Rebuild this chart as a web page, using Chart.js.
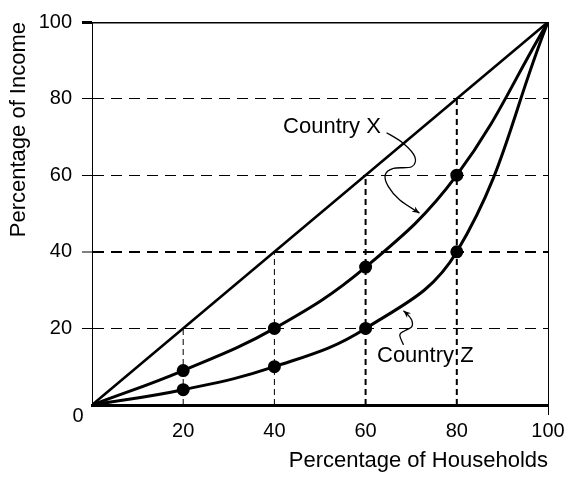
<!DOCTYPE html>
<html>
<head>
<meta charset="utf-8">
<script src="https://cdn.jsdelivr.net/npm/chart.js@4"></script>
<style>
  html, body { margin: 0; padding: 0; background: #fff; }
</style>
</head>
<body>
<canvas id="myChart" width="578" height="482"></canvas>
<script>
// values
const households = [0, 20, 40, 60, 80, 100];
const countryX = [0, 9, 20, 36, 60, 100];
const countryZ = [0, 4, 10, 20, 40, 100];
const equality = [0, 100];
const dropLines = [20, 40, 60, 80];
const yTicks = [0, 20, 40, 60, 80, 100];
const xTicks = [20, 40, 60, 80, 100];

// annotation anchors, in data units
const labelX = { text: "Country X", at: [41.9, 71.0] };
const labelZ = { text: "Country Z", at: [62.5, 11.2] };
const arrowX = [[64.6, 71.1], [68.3, 68.3], [70.8, 64.8], [70.1, 62.2], [66.1, 61.8], [64.3, 60.1], [65.0, 57.0], [67.5, 53.5], [71.8, 50.1]];
const arrowZ = [[68.3, 15.7], [67.5, 18.3], [68.6, 19.4], [70.1, 20.4], [70.1, 22.2], [69.0, 23.9], [68.3, 24.6]];

const FONT = "'Liberation Sans', Arial, Helvetica, sans-serif";
Chart.defaults.font.family = FONT;
Chart.defaults.color = "#000";

const toPoints = (xs, ys) => xs.map((v, i) => ({ x: v, y: ys[i] }));
const endsHidden = (c) => (c.dataIndex === 0 || c.dataIndex === c.dataset.data.length - 1 ? 0 : 5);

const datasets = [];
dropLines.forEach((v) => {
  datasets.push({
    data: [{ x: v, y: 0 }, { x: v, y: v }],
    borderColor: "#000",
    borderWidth: v >= 60 ? 2 : 1,
    borderDash: [6, 4],
    pointRadius: 0,
  });
});
datasets.push({
  data: toPoints(equality, equality),
  borderColor: "#000",
  borderWidth: 2.5,
  pointRadius: 0,
});
datasets.push({
  data: toPoints(equality, [100, 100]),
  borderColor: "#000",
  borderWidth: 3,
  pointRadius: 0,
});
datasets.push({
  data: toPoints(households, countryX),
  borderColor: "#000",
  backgroundColor: "#000",
  borderWidth: 3,
  tension: 0.4,
  pointRadius: endsHidden,
});
datasets.push({
  data: toPoints(households, countryZ),
  borderColor: "#000",
  backgroundColor: "#000",
  borderWidth: 3,
  tension: 0.4,
  pointRadius: endsHidden,
});

function drawCurve(ctx, pts) {
  ctx.beginPath();
  ctx.moveTo(pts[0][0], pts[0][1]);
  for (let i = 0; i < pts.length - 1; i++) {
    const p0 = pts[i - 1] || pts[i];
    const p1 = pts[i];
    const p2 = pts[i + 1];
    const p3 = pts[i + 2] || p2;
    ctx.bezierCurveTo(
      p1[0] + (p2[0] - p0[0]) / 6, p1[1] + (p2[1] - p0[1]) / 6,
      p2[0] - (p3[0] - p1[0]) / 6, p2[1] - (p3[1] - p1[1]) / 6,
      p2[0], p2[1]
    );
  }
  ctx.stroke();
  const a = pts[pts.length - 2];
  const b = pts[pts.length - 1];
  const ang = Math.atan2(b[1] - a[1], b[0] - a[0]);
  ctx.beginPath();
  ctx.moveTo(b[0], b[1]);
  ctx.lineTo(b[0] - 8 * Math.cos(ang - 0.4), b[1] - 8 * Math.sin(ang - 0.4));
  ctx.lineTo(b[0] - 5 * Math.cos(ang), b[1] - 5 * Math.sin(ang));
  ctx.lineTo(b[0] - 8 * Math.cos(ang + 0.4), b[1] - 8 * Math.sin(ang + 0.4));
  ctx.closePath();
  ctx.fill();
}

const notes = {
  id: "notes",
  afterDatasetsDraw(chart) {
    const { ctx, scales: { x, y } } = chart;
    const px = (p) => [x.getPixelForValue(p[0]), y.getPixelForValue(p[1])];
    ctx.save();
    ctx.fillStyle = "#000";
    ctx.strokeStyle = "#000";
    ctx.font = "22px " + FONT;
    ctx.textBaseline = "alphabetic";
    ctx.textAlign = "left";
    [labelX, labelZ].forEach((l) => {
      const p = px(l.at);
      ctx.fillText(l.text, p[0], p[1]);
    });
    // origin label
    ctx.font = "20px " + FONT;
    ctx.textAlign = "center";
    ctx.textBaseline = "middle";
    const o = px([0, 0]);
    ctx.fillText("0", o[0] - 14, o[1] + 11);
    ctx.lineWidth = 1.3;
    drawCurve(ctx, arrowX.map(px));
    drawCurve(ctx, arrowZ.map(px));
    ctx.restore();
  },
};

const ctx = document.getElementById("myChart").getContext("2d");
const myChart = new Chart(ctx, {
  type: "scatter",
  data: { datasets: datasets },
  options: {
    responsive: false,
    animation: false,
    devicePixelRatio: 1,
    showLine: true,
    layout: { padding: { top: 22, right: 30, left: 0, bottom: 0 } },
    plugins: { legend: { display: false }, tooltip: { enabled: false } },
    elements: { line: { fill: false } },
    scales: {
      x: {
        type: "linear",
        min: 0,
        max: 100,
        afterBuildTicks: (s) => { s.ticks = xTicks.map((v) => ({ value: v })); },
        afterFit: (s) => { s.height = 77; },
        ticks: { font: { size: 20 }, padding: 4, maxRotation: 0 },
        grid: {
          color: (c) => (c.tick && c.tick.value === 100 ? "#000" : "rgba(0,0,0,0)"),
          lineWidth: 1,
          tickLength: 10,
        },
        border: { display: true, color: "#000", width: 3 },
        title: {
          display: true,
          text: "Percentage of Households",
          align: "end",
          font: { size: 22 },
          padding: { top: 0, bottom: 8 },
        },
      },
      y: {
        type: "linear",
        min: 0,
        max: 100,
        afterBuildTicks: (s) => { s.ticks = yTicks.map((v) => ({ value: v })); },
        afterFit: (s) => { s.width = 92; },
        ticks: {
          font: { size: 20 },
          padding: 10,
          callback: (v) => (v === 0 ? "" : v),
        },
        grid: {
          color: (c) => (c.tick && (c.tick.value === 0 || c.tick.value === 100) ? "rgba(0,0,0,0)" : "#000"),
          lineWidth: (c) => (c.tick && c.tick.value === 40 ? 2 : 1),
          tickColor: (c) => (c.tick && c.tick.value === 0 ? "rgba(0,0,0,0)" : "#000"),
          tickWidth: (c) => (c.tick && c.tick.value === 100 ? 3 : 1),
          tickLength: 10,
        },
        border: { display: true, color: "#000", width: 1, dash: [11, 7] },
        title: {
          display: true,
          text: "Percentage of Income",
          align: "end",
          font: { size: 22 },
          padding: { top: 6, bottom: 0 },
        },
      },
    },
  },
  plugins: [notes],
});
</script>
</body>
</html>
